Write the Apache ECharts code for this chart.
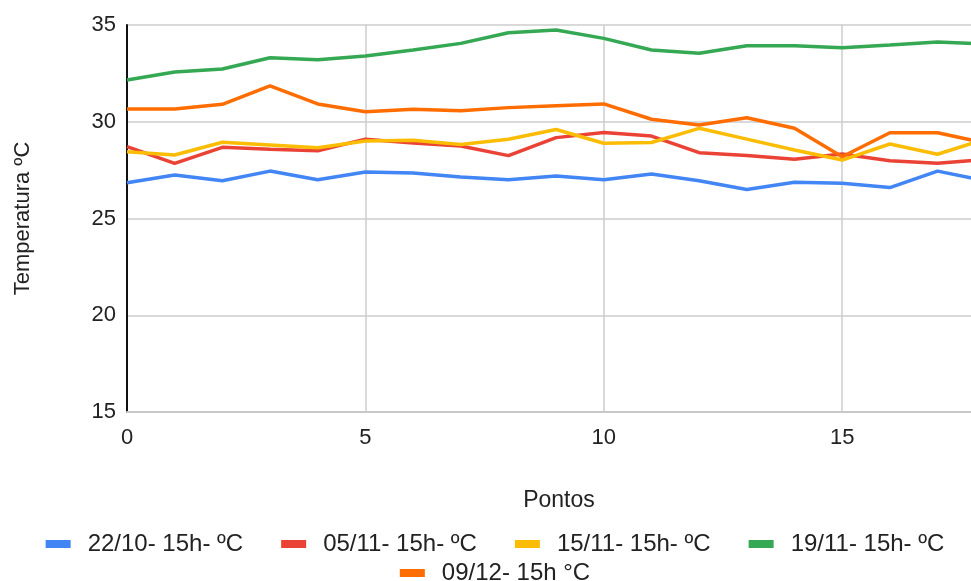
<!DOCTYPE html>
<html>
<head>
<meta charset="utf-8">
<script src="https://cdn.jsdelivr.net/npm/echarts@6/dist/echarts.min.js"></script>
<style>html,body{margin:0;padding:0;background:#fff;overflow:hidden;width:971px;height:581px}#c{width:990px;height:581px}</style>
</head>
<body>
<div id="c"></div>
<script>
const pontos = [0,1,2,3,4,5,6,7,8,9,10,11,12,13,14,15,16,17,18];
const seriesNames = ['22/10- 15h- ºC','05/11- 15h- ºC','15/11- 15h- ºC','19/11- 15h- ºC','09/12- 15h °C'];
const s2210 = [26.85,27.25,26.95,27.45,27.0,27.4,27.35,27.15,27.0,27.2,27.0,27.3,26.95,26.5,26.87,26.82,26.6,27.45,26.95];
const s0511 = [28.71,27.85,28.68,28.58,28.5,29.1,28.9,28.75,28.25,29.18,29.44,29.26,28.4,28.25,28.06,28.33,27.99,27.85,28.05];
const s1511 = [28.45,28.28,28.94,28.8,28.66,29.0,29.05,28.83,29.1,29.6,28.89,28.93,29.66,29.1,28.54,28.02,28.85,28.32,29.1];
const s1911 = [32.16,32.57,32.73,33.31,33.21,33.4,33.71,34.05,34.6,34.74,34.31,33.71,33.54,33.93,33.93,33.83,33.97,34.12,34.02];
const s0912 = [30.66,30.66,30.9,31.85,30.92,30.52,30.64,30.57,30.73,30.83,30.92,30.13,29.83,30.21,29.66,28.19,29.43,29.43,28.9];
const colors = ['#4285F4','#EA4335','#FBBC04','#34A853','#FF6D01'];
const yTicks = {min:15, max:35, interval:5};
const xTicks = {min:0, max:18.1, interval:5};

const allData = [s2210,s0511,s1511,s1911,s0912];
const FONT = 'Arial, "Liberation Sans", sans-serif';
const chart = echarts.init(document.getElementById('c'));
const legendText = {fontSize:24, color:'#222', fontFamily:FONT, padding:[0,0,0,12]};
chart.setOption({
  animation:false,
  color:colors,
  grid:{left:127, right:0, top:25, bottom:169, containLabel:false},
  legend:[
    {data:seriesNames.slice(0,4), left:'center', top:527, itemWidth:25, itemHeight:8, itemGap:38, icon:'rect', textStyle:legendText},
    {data:seriesNames.slice(4), left:'center', top:556, itemWidth:25, itemHeight:8, icon:'rect', textStyle:legendText}
  ],
  title:{text:'Pontos', left:554, top:484, textAlign:'center', textStyle:{fontSize:23, fontWeight:'normal', color:'#222', fontFamily:FONT}},
  xAxis:{
    type:'value', min:xTicks.min, max:xTicks.max, interval:xTicks.interval,
    axisLine:{show:true, lineStyle:{color:'#c8c8c8', width:2}},
    axisTick:{show:false},
    axisLabel:{fontSize:22, color:'#222', fontFamily:FONT, margin:15, showMaxLabel:false},
    splitLine:{show:true, lineStyle:{color:'#cccccc', width:1.5}}
  },
  yAxis:{
    type:'value', min:yTicks.min, max:yTicks.max, interval:yTicks.interval,
    name:'Temperatura ºC', nameLocation:'middle', nameGap:93,
    nameTextStyle:{fontSize:22, color:'#222', fontFamily:FONT},
    axisLine:{show:true, lineStyle:{color:'#111', width:2}},
    axisTick:{show:false},
    axisLabel:{fontSize:22, color:'#222', fontFamily:FONT, margin:11},
    splitLine:{show:true, lineStyle:{color:'#cccccc', width:1.5}}
  },
  series: seriesNames.map((n,k)=>({
    name:n, type:'line', showSymbol:false, symbol:'none', clip:true,
    lineStyle:{width:3.5, color:colors[k]},
    data: pontos.map((p,i)=>[p, allData[k][i]])
  }))
});
</script>
</body>
</html>
